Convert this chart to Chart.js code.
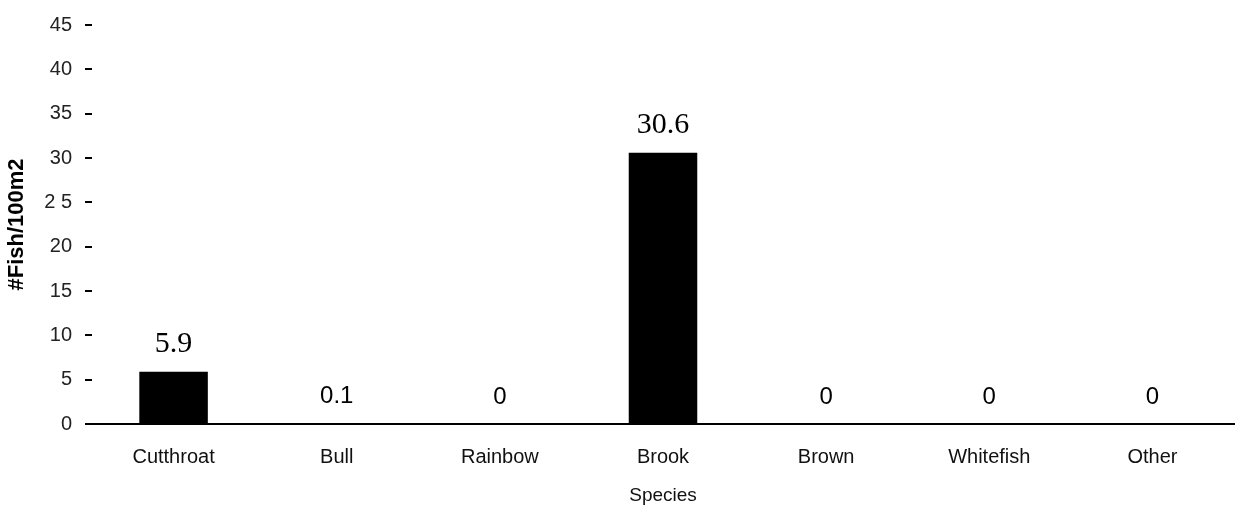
<!DOCTYPE html>
<html lang="en">
<head>
    <meta charset="UTF-8">
    <title>Fish density by species</title>
    <script src="https://cdn.jsdelivr.net/npm/chart.js"></script>
    <style>
        html, body { margin: 0; padding: 0; background: #fff; }
        #wrap { width: 1240px; height: 513px; position: relative; }
    </style>
</head>
<body>
    <div id="wrap"><canvas id="fishChart"></canvas></div>

    <script>
        // data
        const species = ['Cutthroat', 'Bull', 'Rainbow', 'Brook', 'Brown', 'Whitefish', 'Other'];
        const fishPer100m2 = [5.9, 0.1, 0, 30.6, 0, 0, 0];
        const valueLabels = ['5.9', '0.1', '0', '30.6', '0', '0', '0'];
        const yTickValues = [0, 5, 10, 15, 20, 25, 30, 35, 40, 45];
        const yTickLabels = ['0', '5', '10', '15', '20', '2 5', '30', '35', '40', '45'];

        const sans = 'Arial, "Liberation Sans", sans-serif';
        const serif = '"Times New Roman", "Liberation Serif", serif';

        // value labels above each bar
        const barValues = {
            id: 'barValues',
            afterDatasetsDraw(chart) {
                const ctx = chart.ctx;
                const meta = chart.getDatasetMeta(0);
                ctx.save();
                ctx.fillStyle = '#000';
                ctx.textAlign = 'center';
                ctx.textBaseline = 'alphabetic';
                meta.data.forEach((bar, i) => {
                    // the tall bars carry serif labels in the original
                    ctx.font = fishPer100m2[i] >= 1 ? '30px ' + serif : '24px ' + sans;
                    ctx.fillText(valueLabels[i], bar.x, bar.y - 20);
                });
                ctx.restore();
            }
        };

        const ctx = document.getElementById('fishChart').getContext('2d');
        const fishChart = new Chart(ctx, {
            type: 'bar',
            data: {
                labels: species,
                datasets: [{
                    data: fishPer100m2,
                    backgroundColor: '#000',
                    borderWidth: 0,
                    barPercentage: 0.42,
                    categoryPercentage: 1
                }]
            },
            options: {
                responsive: true,
                maintainAspectRatio: false,
                animation: false,
                layout: { padding: { top: 23, right: 6, bottom: 6, left: 0 } },
                plugins: {
                    legend: { display: false },
                    tooltip: { enabled: false }
                },
                scales: {
                    x: {
                        afterFit(scale) {
                            scale.height = 83;
                        },
                        grid: { display: false, drawTicks: false },
                        border: { display: true, color: '#000', width: 2 },
                        ticks: { color: '#111', font: { family: sans, size: 20 }, padding: 21, maxRotation: 0 },
                        title: {
                            display: true,
                            text: 'Species',
                            color: '#111',
                            font: { family: sans, size: 19 },
                            padding: { top: 0, bottom: 0 }
                        }
                    },
                    y: {
                        min: 0,
                        max: 45,
                        afterBuildTicks(scale) {
                            scale.ticks = yTickValues.map(v => ({ value: v }));
                        },
                        afterFit(scale) {
                            scale.width = 92;
                        },
                        grid: { drawOnChartArea: false, drawTicks: true, tickLength: 7, color: '#000', lineWidth: 2 },
                        border: { display: false },
                        ticks: {
                            color: '#222',
                            font: { family: sans, size: 20 },
                            padding: 13,
                            callback: (v, i) => yTickLabels[i]
                        },
                        title: {
                            display: true,
                            text: '#Fish/100m2',
                            color: '#000',
                            font: { family: sans, size: 22, weight: 'bold' },
                            padding: { top: 4, bottom: 0 }
                        }
                    }
                }
            },
            plugins: [barValues]
        });
    </script>
</body>
</html>
